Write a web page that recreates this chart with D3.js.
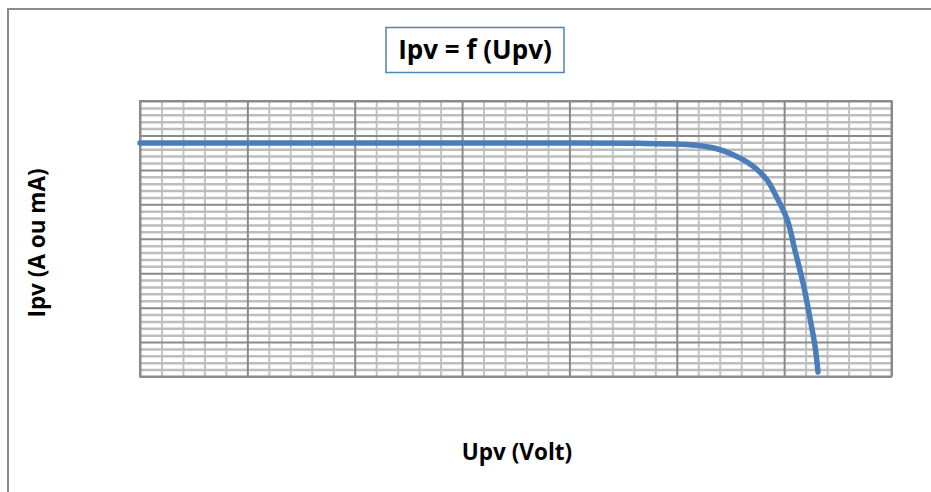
<!DOCTYPE html>
<html>
<head>
<meta charset="utf-8">
<script src="https://cdn.jsdelivr.net/npm/d3@7"></script>
<style>
  html, body { margin: 0; padding: 0; background: #fff; }
  svg { display: block; }
  text { font-family: "Open Sans", "Noto Sans", sans-serif; font-weight: bold; fill: #000; }
</style>
</head>
<body>
<svg id="chart" width="931" height="492"></svg>
<script>
// ---- data ----
const upv = [0, 1, 2, 3, 4, 4.66, 5.03, 5.22, 5.40, 5.59, 5.71, 5.84, 5.93, 6.03, 6.10, 6.18, 6.24, 6.29, 6.315];
const ipv = [6.78, 6.78, 6.78, 6.78, 6.78, 6.77, 6.745, 6.70, 6.59, 6.34, 6.11, 5.71, 5.21, 4.54, 3.67, 2.66, 1.70, 0.83, 0.13];
const xMajorTicks = [0, 1, 2, 3, 4, 5, 6, 7];
const yMajorTicks = [0, 1, 2, 3, 4, 5, 6, 7, 8];
const minorPerMajor = 5;
const titleText = "Ipv = f (Upv)";
const xLabel = "Upv (Volt)";
const yLabel = "Ipv (A ou mA)";

// ---- layout ----
const svg = d3.select("#chart");
const plot = { left: 140, right: 891.5, top: 101, bottom: 376.5 };

const x = d3.scaleLinear().domain([0, 7]).range([plot.left, plot.right]);
const y = d3.scaleLinear().domain([0, 8]).range([plot.bottom, plot.top]);

svg.append("rect")
  .attr("x", 8).attr("y", 9)
  .attr("width", 940).attr("height", 500)
  .attr("fill", "#fff")
  .attr("stroke", "#8c8c8c").attr("stroke-width", 2);

const minorX = d3.range(0, 7 * minorPerMajor + 1).map(i => i / minorPerMajor).filter(v => !xMajorTicks.includes(v));
const minorY = d3.range(0, 8 * minorPerMajor + 1).map(i => i / minorPerMajor).filter(v => !yMajorTicks.includes(v));

const g = svg.append("g");

const minorXAxis = d3.axisBottom(x).tickValues(minorX).tickSize(-(plot.bottom - plot.top)).tickFormat("");
const minorYAxis = d3.axisLeft(y).tickValues(minorY).tickSize(-(plot.right - plot.left)).tickFormat("");
const majorXAxis = d3.axisBottom(x).tickValues(xMajorTicks).tickSize(-(plot.bottom - plot.top)).tickFormat("");
const majorYAxis = d3.axisLeft(y).tickValues(yMajorTicks).tickSize(-(plot.right - plot.left)).tickFormat("");

function styleGrid(sel, color, w) {
  sel.select(".domain").remove();
  sel.selectAll("line").attr("stroke", color).attr("stroke-width", w);
}

g.append("g").attr("transform", `translate(0,${plot.bottom})`).call(minorXAxis).call(s => styleGrid(s, "#c3c3c3", 2));
g.append("g").attr("transform", `translate(${plot.left},0)`).call(minorYAxis).call(s => styleGrid(s, "#bdbdbd", 2.5));
g.append("g").attr("transform", `translate(0,${plot.bottom})`).call(majorXAxis).call(s => styleGrid(s, "#8a8a8a", 2));
g.append("g").attr("transform", `translate(${plot.left},0)`).call(majorYAxis).call(s => styleGrid(s, "#8a8a8a", 2));

g.append("rect")
  .attr("x", plot.left).attr("y", plot.top)
  .attr("width", plot.right - plot.left).attr("height", plot.bottom - plot.top)
  .attr("fill", "none").attr("stroke", "#8a8a8a").attr("stroke-width", 2);

// curve
const pts = upv.map((v, i) => [v, ipv[i]]);
const line = d3.line().x(d => x(d[0])).y(d => y(d[1])).curve(d3.curveCatmullRom.alpha(0.5));
svg.append("path")
  .datum(pts)
  .attr("d", line)
  .attr("fill", "none")
  .attr("stroke", "#4a7ebb")
  .attr("stroke-width", 5.5)
  .attr("stroke-linecap", "round")
  .attr("stroke-linejoin", "round");

// title box
svg.append("rect")
  .attr("x", 386).attr("y", 27.5)
  .attr("width", 178).attr("height", 45)
  .attr("fill", "#fff")
  .attr("stroke", "#4f81bd").attr("stroke-width", 1.5);
svg.append("text")
  .attr("x", 475).attr("y", 59)
  .attr("text-anchor", "middle")
  .style("font-size", "26px")
  .text(titleText);

// axis titles
svg.append("text")
  .attr("x", 517).attr("y", 460)
  .attr("text-anchor", "middle")
  .style("font-size", "22.5px")
  .text(xLabel);
svg.append("text")
  .attr("transform", "translate(45,243) rotate(-90)")
  .attr("text-anchor", "middle")
  .style("font-size", "22.5px")
  .text(yLabel);
</script>
</body>
</html>
